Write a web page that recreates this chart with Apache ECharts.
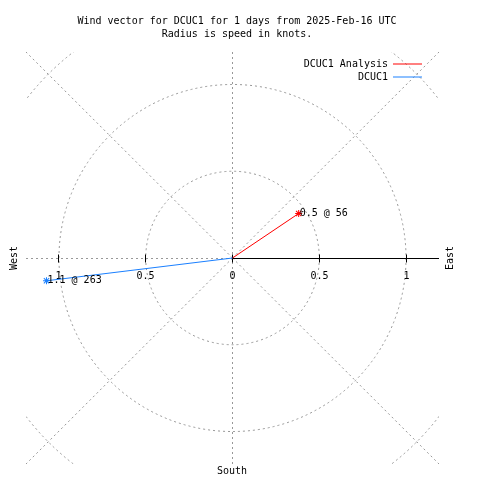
<!DOCTYPE html>
<html>
<head>
<meta charset="utf-8">
<script src="https://cdn.jsdelivr.net/npm/echarts@6/dist/echarts.min.js"></script>
<style>html,body{margin:0;padding:0;background:#fff}#c{width:480px;height:480px}</style>
</head>
<body>
<div id="c"></div>
<script>
// ---- data ----
var titleLines = ['Wind vector for DCUC1 for 1 days from 2025-Feb-16 UTC', 'Radius is speed in knots.'];
var seriesNames = ['DCUC1 Analysis', 'DCUC1'];
var speeds = [0.46, 1.08];          // knots
var directions = [56, 263];         // degrees, clockwise from north
var pointLabels = ['0.5 @ 56', '1.1 @ 263'];
var seriesColors = ['#ff0000', '#1a80ff'];
var gridRadii = [0.5, 1, 1.5];
var radialAngles = [45, 135, 225, 315];
var tickValues = [-1, -0.5, 0, 0.5, 1];
var tickLabels = ['1', '0.5', '0', '0.5', '1'];
var axisRange = 1.19;
var compassLabels = ['West', 'East', 'South'];

var FONT = 'DejaVu Sans Mono';
var ASTERISK = 'path://M-0.5,-3.5L0.5,-3.5L0.5,3.5L-0.5,3.5Z M-3.5,-0.5L3.5,-0.5L3.5,0.5L-3.5,0.5Z M-3,-2.3L-2.3,-3L3,2.3L2.3,3Z M2.3,-3L3,-2.3L-2.3,3L-3,2.3Z';

function toXY(speed, dir) {
  var a = dir * Math.PI / 180;
  return [speed * Math.sin(a), speed * Math.cos(a)];
}

var chart = echarts.init(document.getElementById('c'), null, {renderer: 'canvas'});

var dataSeries = seriesNames.map(function (name, i) {
  return {
    name: name,
    type: 'line',
    z: 5,
    data: [
      {value: [0, 0], symbol: 'none'},
      {value: toXY(speeds[i], directions[i])}
    ],
    symbol: ASTERISK,
    symbolSize: 7,
    showSymbol: true,
    lineStyle: {color: seriesColors[i], width: 1},
    itemStyle: {color: seriesColors[i]},
    label: {
      show: true,
      position: 'right',
      distance: -2.5,
      color: '#000',
      fontFamily: FONT,
      fontSize: 10,
      formatter: function (p) { return p.dataIndex === 1 ? pointLabels[i] : ''; }
    },
    emphasis: {disabled: true}
  };
});

function snap(v) { return Math.round(v - 0.5) + 0.5; }

var gridSeries = {
  type: 'custom',
  silent: true,
  clip: false,
  z: 1,
  data: [0],
  renderItem: function (params, api) {
    var c = api.coord([0, 0]);
    var cx = snap(c[0]), cy = snap(c[1]);
    var unit = api.size([1, 0])[0];
    var cs = params.coordSys;
    var dashed = {stroke: '#989898', lineWidth: 1, lineDash: [2, 3], fill: null};
    var clipped = [];
    gridRadii.forEach(function (r) {
      clipped.push({type: 'circle', shape: {cx: c[0], cy: c[1], r: r * unit}, style: dashed});
    });
    radialAngles.forEach(function (ang) {
      var p = api.coord(toXY(3, ang));
      clipped.push({type: 'line', shape: {x1: c[0], y1: c[1], x2: p[0], y2: p[1]}, style: dashed});
    });
    var children = [{
      type: 'group',
      clipPath: {type: 'rect', shape: {x: cs.x, y: cs.y, width: cs.width, height: cs.height}},
      children: clipped
    }];
    // vertical dashed line (north-south)
    children.push({type: 'line', shape: {x1: cx, y1: cs.y, x2: cx, y2: cs.y + cs.height}, style: dashed});
    // horizontal: dashed west half, solid east half
    children.push({type: 'line', shape: {x1: cs.x, y1: cy, x2: cx, y2: cy}, style: dashed});
    children.push({type: 'line', shape: {x1: cx, y1: cy, x2: cs.x + cs.width, y2: cy}, style: {stroke: '#000', lineWidth: 1}});
    tickValues.forEach(function (t, k) {
      var p = api.coord([t, 0]);
      var x = snap(p[0]);
      children.push({type: 'line', shape: {x1: x, y1: cy - 4, x2: x, y2: cy + 4}, style: {stroke: '#000', lineWidth: 1}});
      children.push({type: 'text', x: x, y: cy + 18,
        style: {text: tickLabels[k], fontFamily: FONT, fontSize: 10, fill: '#000', align: 'center', verticalAlign: 'middle'}});
    });
    return {type: 'group', children: children};
  }
};

var option = {
  animation: false,
  backgroundColor: '#fff',
  title: {
    text: titleLines.join('\n'),
    left: 232,
    top: 10,
    textAlign: 'center',
    textStyle: {fontFamily: FONT, fontSize: 10, fontWeight: 'normal', color: '#000', lineHeight: 13}
  },
  legend: {
    orient: 'vertical',
    align: 'right',
    right: 53,
    top: 54,
    itemWidth: 29,
    itemHeight: 1,
    itemGap: 3,
    icon: 'rect',
    data: seriesNames,
    textStyle: {fontFamily: FONT, fontSize: 10, color: '#000'}
  },
  grid: {left: 26, right: 41, top: 52, bottom: 16, containLabel: false, outerBoundsMode: 'none'},
  xAxis: {
    type: 'value',
    min: -axisRange,
    max: axisRange,
    axisLine: {show: false},
    axisTick: {show: false},
    splitLine: {show: false},
    axisLabel: {show: false}
  },
  yAxis: {
    type: 'value',
    min: -axisRange,
    max: axisRange,
    axisLine: {show: false},
    axisTick: {show: false},
    axisLabel: {show: false},
    splitLine: {show: false}
  },
  graphic: [
    {type: 'text', x: 14, y: 258, rotation: Math.PI / 2,
     style: {text: compassLabels[0], fontFamily: FONT, fontSize: 10, fill: '#000', align: 'center', verticalAlign: 'middle'}},
    {type: 'text', x: 450, y: 258, rotation: Math.PI / 2,
     style: {text: compassLabels[1], fontFamily: FONT, fontSize: 10, fill: '#000', align: 'center', verticalAlign: 'middle'}},
    {type: 'text', x: 232, y: 471,
     style: {text: compassLabels[2], fontFamily: FONT, fontSize: 10, fill: '#000', align: 'center', verticalAlign: 'middle'}}
  ],
  series: [gridSeries].concat(dataSeries)
};
chart.setOption(option);
</script>
</body>
</html>
